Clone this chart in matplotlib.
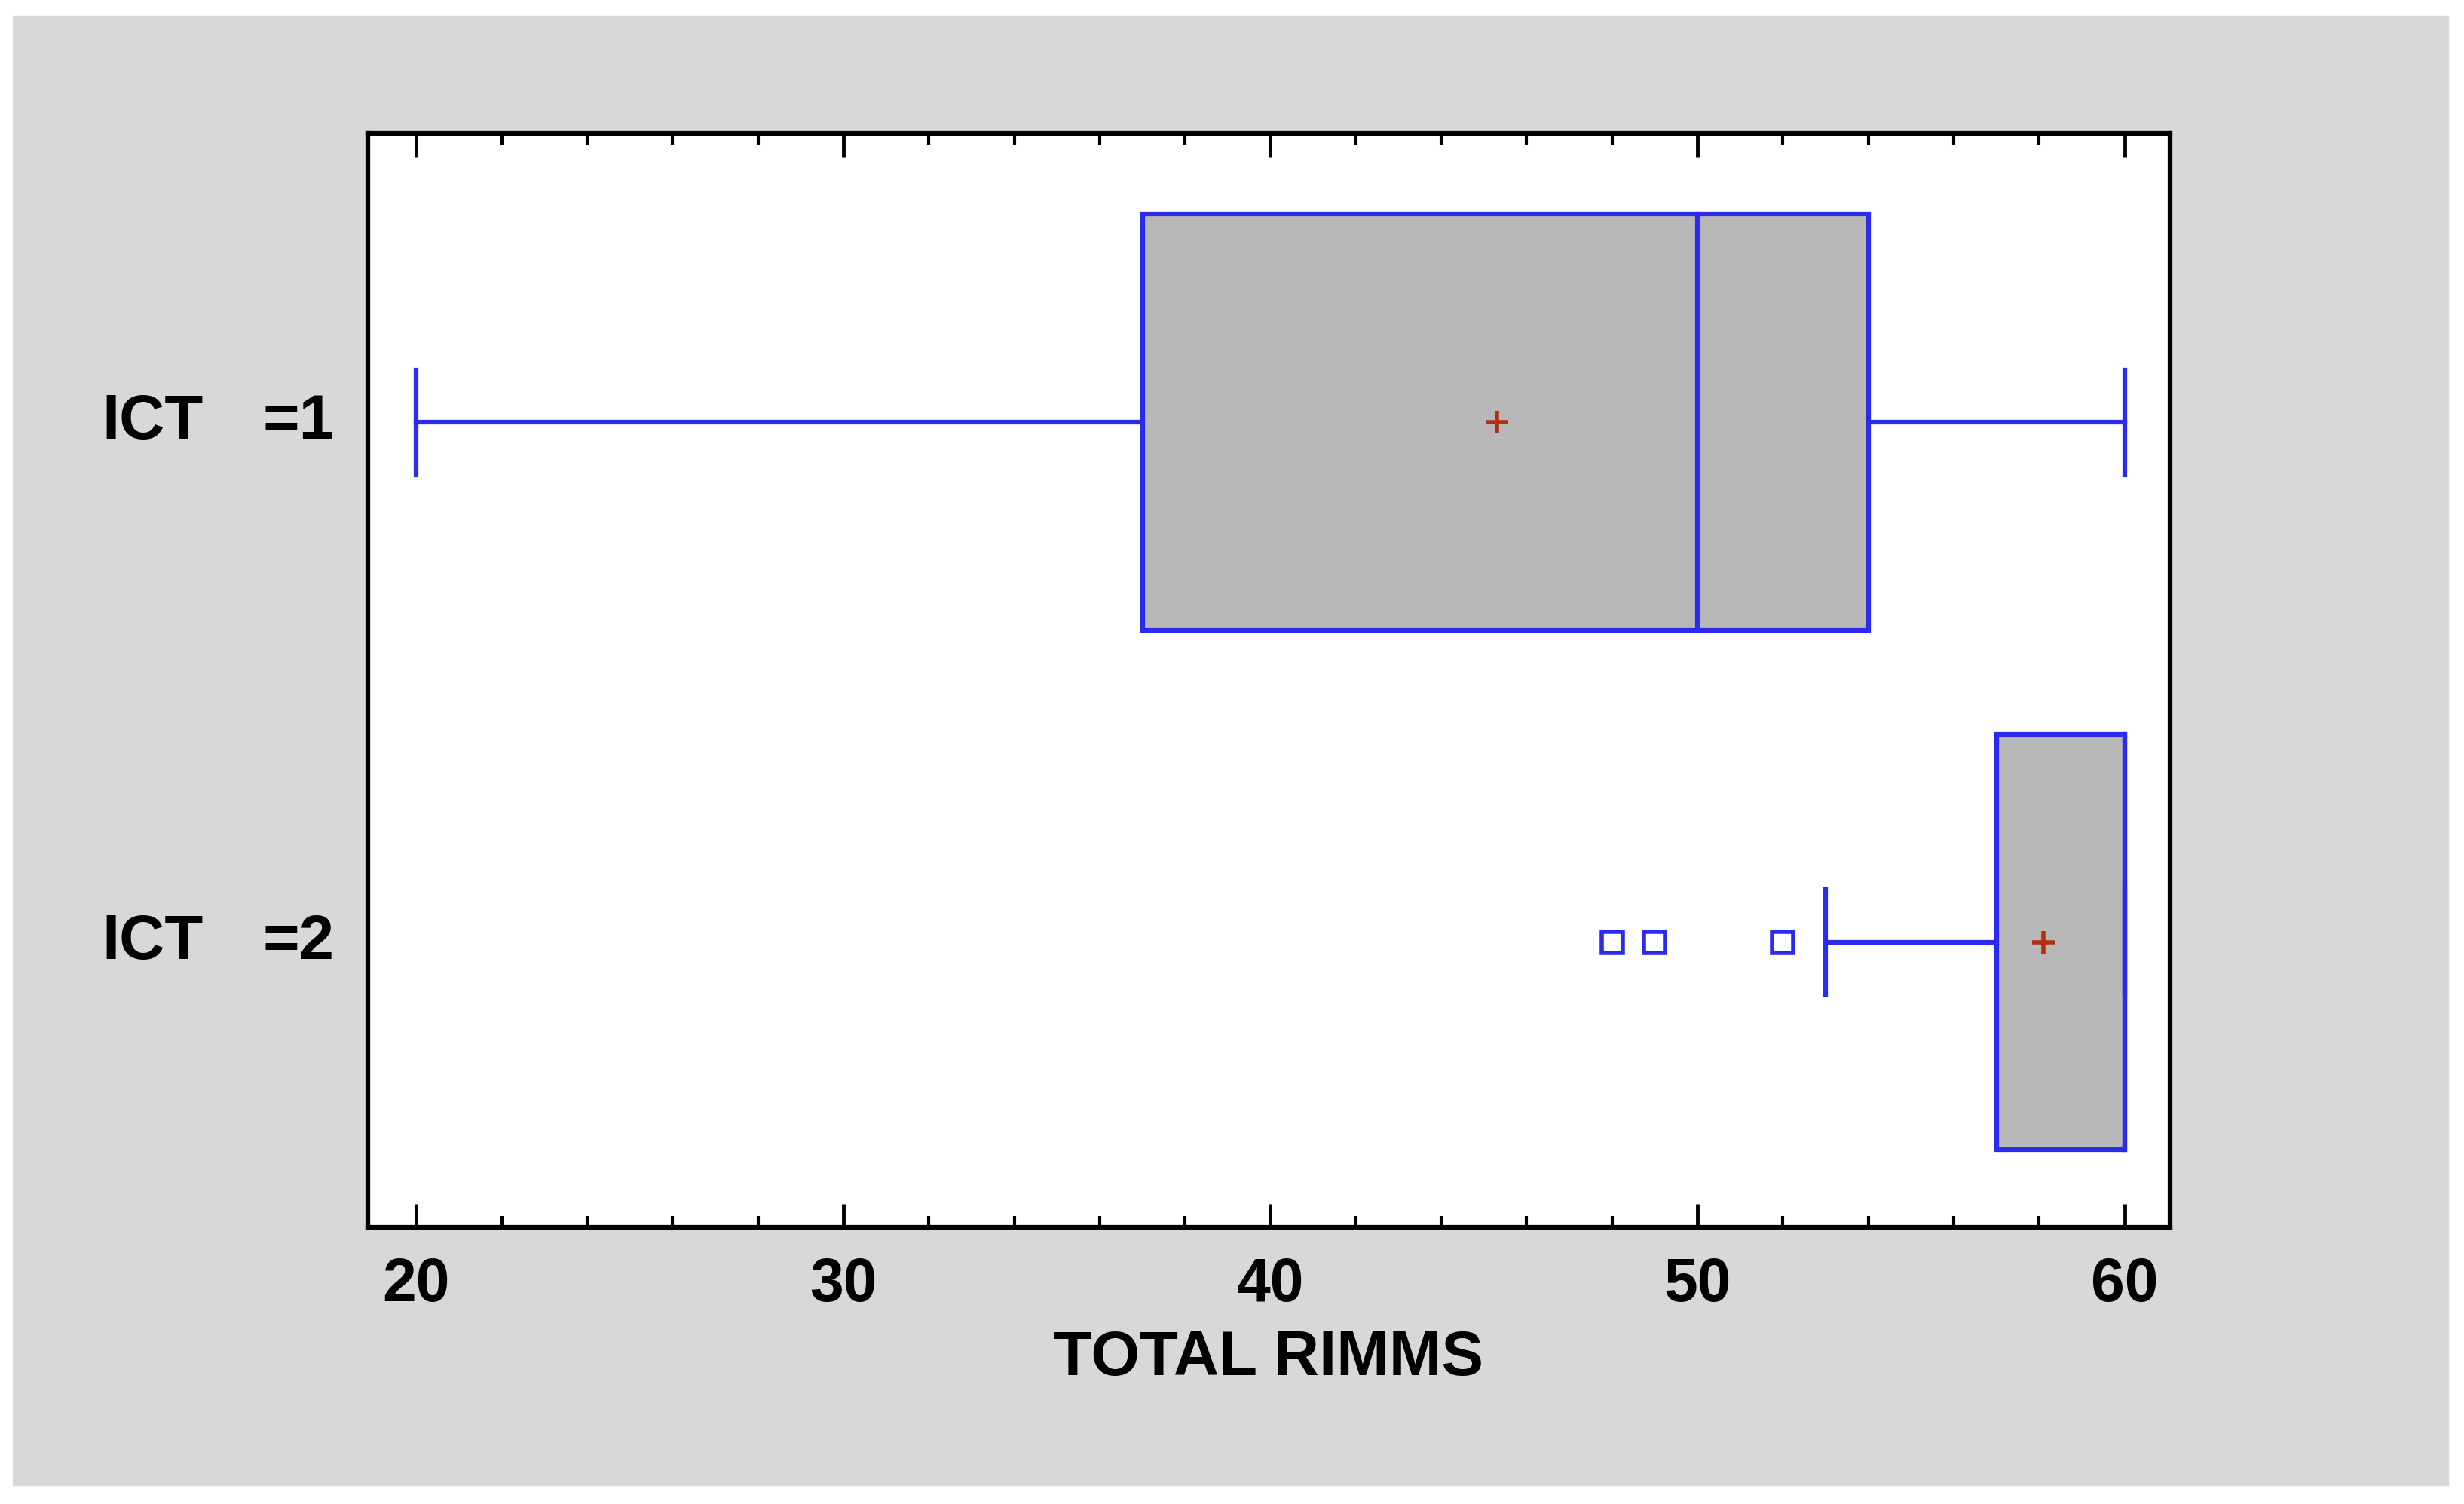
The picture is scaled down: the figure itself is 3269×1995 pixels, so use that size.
import numpy as np
import matplotlib.pyplot as plt
from matplotlib.patches import Rectangle
from matplotlib.ticker import MultipleLocator

plt.rcParams['font.family'] = ['Liberation Sans', 'DejaVu Sans']
plt.rcParams['font.weight'] = 'bold'

group_ids = [1, 2]
whisker_lo = [20, 53]
q1 = [37, 57]
median = [50, 60]
q3 = [54, 60]
whisker_hi = [60, 60]
means = [45.3, 58.1]
outliers = [[], [48, 49, 52]]

blue = "#2b2bf0"
fig = plt.figure(figsize=(32.69, 19.95), dpi=100)
fig.patches.append(Rectangle((8/1568, 1-946/958), 1550/1568, 936/958,
                             transform=fig.transFigure, color="#d8d8d8", zorder=-5))
ax = fig.add_axes([234/1568, 1-782/958, 1147/1568, 697/958])
ax.set_zorder(2)
ax.set_facecolor("white")

centers = [0.264, 0.739]
half = 0.19
cap = 0.048
lw = 4.5
for i, c in enumerate(centers):
    ax.add_patch(Rectangle((q1[i], c-half), q3[i]-q1[i], 2*half,
                           facecolor="#b8b8b8", edgecolor=blue, lw=lw, zorder=2))
    ax.plot([median[i]]*2, [c-half, c+half], color=blue, lw=lw, zorder=3)
    ax.plot([whisker_lo[i], q1[i]], [c, c], color=blue, lw=lw)
    ax.plot([q3[i], whisker_hi[i]], [c, c], color=blue, lw=lw)
    ax.plot([whisker_lo[i]]*2, [c-cap, c+cap], color=blue, lw=lw)
    ax.plot([whisker_hi[i]]*2, [c-cap, c+cap], color=blue, lw=lw)
    ax.plot(means[i], c, marker="+", color="#b03010", ms=22, mew=4, zorder=4)
    if outliers[i]:
        ax.plot(outliers[i], [c]*len(outliers[i]), ls="none", marker="s", ms=20,
                mfc="none", mec=blue, mew=4)

ax.set_xlim(18.86, 61.07)
ax.set_ylim(1, 0)
ax.xaxis.set_major_locator(MultipleLocator(10))
ax.xaxis.set_minor_locator(MultipleLocator(2))
ax.tick_params(axis="x", which="major", direction="in", length=22, width=3.5,
               labelsize=58, pad=28, top=True)
ax.tick_params(axis="x", which="minor", direction="in", length=11, width=3, top=True)
ax.set_yticks([])
for s in ax.spines.values():
    s.set_linewidth(4.5)
ax.set_xlabel("TOTAL RIMMS", fontsize=60, fontweight="bold", labelpad=14)
for i, c in enumerate(centers):
    y = 1-(85+c*697)/958
    fig.text(65/1568, y, "ICT", fontsize=60, fontweight="bold", va="center")
    fig.text(167/1568, y, "=%d" % group_ids[i], fontsize=60, fontweight="bold", va="center")

fig.savefig("out.png", dpi=100, facecolor="white")
